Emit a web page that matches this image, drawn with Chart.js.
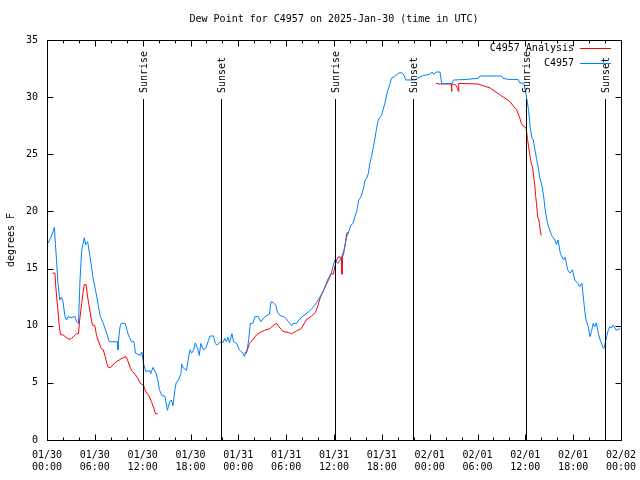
<!DOCTYPE html>
<html>
<head>
<meta charset="utf-8">
<script src="https://cdn.jsdelivr.net/npm/chart.js"></script>
<style>
    html, body { margin: 0; padding: 0; background: #fff; }
    #wrap { width: 640px; height: 480px; }
</style>
</head>
<body>
<div id="wrap"><canvas id="dewChart" width="640" height="480"></canvas></div>
<script>
// Hours since 2025-01-30 00:00 UTC
const stationHours = [
    0.1, 0.4, 0.7, 0.92, 1.05, 1.2, 1.35, 1.6, 1.8, 2.0, 2.26, 2.45, 2.65, 3.0, 3.5, 3.75, 3.95,
    4.14, 4.35, 4.5, 4.68, 4.85, 5.1, 5.4, 5.8, 6.2, 6.65, 7.06, 7.5, 7.8, 8.85, 8.9, 8.95,
    9.16, 9.3, 9.8, 10.2, 10.6, 10.9, 11.1, 11.7, 11.9, 12.1, 12.4, 12.9, 13.0, 13.3, 13.7,
    13.9, 14.1, 14.4, 14.8, 15.1, 15.4, 15.6, 15.8, 16.05, 16.2, 16.5, 16.8, 16.9, 17.1, 17.5,
    17.8, 17.95, 18.15, 18.4, 18.6, 18.9, 19.1, 19.3, 19.6, 19.9, 20.2, 20.45, 20.9, 21.1,
    21.3, 21.7, 22.1, 22.3, 22.5, 22.7, 22.9, 23.2, 23.4, 23.8, 24.1, 24.4, 24.6, 24.75, 24.95,
    25.1, 25.3, 25.5, 25.8, 26.1, 26.5, 26.8, 27.2, 27.6, 27.9, 28.1, 28.4, 28.7, 28.9, 29.2,
    29.65, 29.9, 30.3, 30.7, 30.9, 31.3, 31.6, 32.2, 32.6, 33.1, 33.6, 34.0, 34.4, 34.7, 35.2,
    35.7, 36.1, 36.5, 36.96, 37.25, 37.6, 37.8, 38.1, 38.4, 38.6, 38.85, 39.1, 39.4, 39.7,
    39.9, 40.1, 40.3, 40.5, 40.7, 40.9, 41.1, 41.3, 41.55, 41.96, 42.4, 42.7, 43.0, 43.2,
    43.6, 44.1, 44.5, 44.8, 45.0, 46.2, 46.4, 47.2, 48.0, 48.3, 48.5, 48.8, 49.3, 49.5, 50.8,
    51.0, 52.6, 54.1, 54.3, 57.0, 57.2, 57.9, 59.1, 59.3, 59.8, 60.0, 60.2, 60.4, 60.6, 60.8,
    61.0, 61.2, 61.4, 61.6, 61.8, 62.1, 62.3, 62.5, 62.7, 62.9, 63.3, 63.7, 63.9, 64.1, 64.4,
    64.8, 65.0, 65.3, 65.6, 65.9, 66.2, 66.6, 66.8, 67.1, 67.4, 67.6, 67.9, 68.1, 68.3, 68.5,
    68.7, 68.9, 69.2, 69.4, 69.7, 69.85, 70.0, 70.2, 70.4, 70.6, 70.8, 71.0, 71.4, 71.9
];
const stationDew = [
    17.2, 17.6, 18.1, 18.6, 17.2, 15.7, 13.9, 12.25, 12.5, 12.1, 10.8, 10.5, 10.8, 10.7, 10.8, 10.3, 10.2,
    14.0, 16.6, 17.1, 17.7, 17.1, 17.35, 16.0, 14.1, 12.7, 10.9, 10.2, 9.3, 8.6, 8.6, 7.9, 8.6,
    9.9, 10.2, 10.2, 9.2, 8.6, 8.6, 7.6, 7.4, 7.7, 6.7, 6.0, 6.06, 5.8, 6.35, 5.8,
    5.25, 4.4, 3.9, 3.8, 2.6, 3.35, 3.5, 3.0, 4.4, 5.0, 5.25, 5.8, 6.65, 6.3, 6.1,
    7.4, 7.9, 7.6, 7.9, 8.5, 8.0, 7.4, 8.45, 7.9, 8.0, 8.6, 9.1, 9.1, 8.45,
    8.3, 8.55, 8.55, 8.9, 8.6, 9.0, 8.5, 9.3, 8.6, 8.45, 7.9, 7.7, 7.6, 7.3, 7.7,
    7.9, 8.75, 10.2, 10.2, 10.8, 10.8, 10.35, 10.7, 10.9, 11.0, 12.1, 12.0, 11.8, 11.2, 10.9,
    10.8, 10.7, 10.35, 10.0, 10.2, 10.2, 10.5, 10.9, 11.1, 11.4, 11.8, 12.25, 12.7, 13.1, 14.0,
    14.7, 15.75, 15.45, 16.0, 16.6, 17.8, 18.1, 18.8, 18.96, 19.5, 20.0, 21.0, 21.3, 22.0,
    22.75, 22.9, 23.3, 24.2, 24.8, 25.5, 26.25, 27.1, 28.0, 28.4, 29.5, 30.5, 31.1, 31.65,
    31.8, 32.1, 32.15, 31.9, 31.5, 31.5, 31.65, 31.9, 32.0, 32.2, 32.0, 32.2, 32.2, 31.2, 31.2,
    31.5, 31.55, 31.65, 31.85, 31.85, 31.65, 31.55, 31.55, 31.25, 31.2, 30.6, 29.75, 28.9, 27.4, 26.5,
    26.25, 25.4, 24.65, 23.9, 23.0, 22.2, 21.3, 20.1, 19.25, 18.7, 17.9, 17.5, 17.1, 17.5, 16.3,
    15.75, 16.0, 14.9, 14.6, 14.9, 14.0, 13.7, 13.4, 13.7, 11.65, 10.5, 9.9, 9.05, 9.5, 10.2,
    9.9, 10.25, 9.2, 8.75, 8.15, 8.0, 8.45, 9.05, 9.6, 9.9, 9.8, 10.05, 9.6, 9.75
];

// Analysis series (null = gap in the data)
const analysisHours = [
    0.67, 1.0, 1.1, 1.35, 1.55, 1.7, 2.0, 2.76, 3.1, 3.7, 3.95, 4.1, 4.35, 4.5, 4.68, 4.9, 5.1,
    5.3, 5.5, 5.7, 6.0, 6.2, 6.4, 6.8, 7.06, 7.3, 7.5, 7.7, 8.0, 8.5, 9.4, 9.9, 10.1, 10.4,
    10.7, 11.0, 11.4, 11.7, 12.1, 12.4, 12.8, 13.1, 13.4, 13.6, 13.9,
    19.0,
    24.8, 25.0, 25.4, 25.7, 26.3, 26.7, 27.3, 28.0, 28.4, 28.8, 29.1, 29.6, 30.3, 30.7, 31.3,
    31.9, 32.5, 33.2, 33.7, 34.0, 34.3, 34.7, 35.3, 35.7, 35.9, 36.25, 36.5, 36.9, 37.0, 37.05,
    37.2, 37.4, 37.6, 37.8,
    43.0,
    48.8, 49.3, 50.7, 50.75, 50.8, 51.2, 51.5, 51.6, 51.65, 54.1, 54.7, 55.6, 56.2, 56.8, 57.7,
    58.1, 58.5, 58.9, 59.25, 59.5, 59.7, 60.1, 60.25, 60.4, 60.6, 60.75, 60.9, 61.2, 61.3, 61.4,
    61.55, 61.7, 61.9, 62.0
];
const analysisDew = [
    14.6, 14.6, 13.4, 11.5, 9.9, 9.2, 9.2, 8.8, 8.9, 9.3, 9.3, 10.5, 11.95, 12.8, 13.6, 13.6, 12.5,
    11.65, 10.8, 10.05, 10.0, 9.2, 8.75, 8.0, 7.9, 7.3, 6.7, 6.35, 6.35, 6.75, 7.15, 7.3, 7.0, 6.4,
    6.0, 5.8, 5.4, 4.96, 4.8, 4.2, 3.85, 3.35, 2.8, 2.3, 2.3,
    null,
    7.6, 7.6, 8.45, 8.7, 9.2, 9.4, 9.6, 9.75, 10.05, 10.2, 9.9, 9.5, 9.4, 9.3, 9.55,
    9.75, 10.5, 10.85, 11.2, 11.8, 12.5, 13.1, 14.0, 14.6, 14.5, 15.6, 16.0, 16.0, 14.5, 16.0,
    16.3, 17.1, 18.1, 18.2,
    null,
    31.2, 31.15, 31.15, 30.5, 31.15, 31.1, 30.8, 30.5, 31.2, 31.15, 31.0, 30.8, 30.5, 30.2, 29.8,
    29.6, 29.2, 28.9, 28.3, 27.7, 27.5, 27.3, 26.5, 25.7, 24.8, 24.2, 23.9, 22.2, 21.3, 20.7,
    19.5, 19.25, 18.2, 17.9
];

// Sunrise / sunset markers
const sunHours = [12.05, 21.83, 36.13, 45.9, 60.08, 70.0];
const sunLabels = ['Sunrise', 'Sunset', 'Sunrise', 'Sunset', 'Sunrise', 'Sunset'];

// Tick labels, every 6 hours
const tickDates = ['01/30', '01/30', '01/30', '01/30', '01/31', '01/31', '01/31', '01/31', '02/01', '02/01', '02/01', '02/01', '02/02'];
const tickTimes = ['00:00', '06:00', '12:00', '18:00', '00:00', '06:00', '12:00', '18:00', '00:00', '06:00', '12:00', '18:00', '00:00'];

const TITLE = 'Dew Point for C4957 on 2025-Jan-30 (time in UTC)';
const FONT = 'DejaVu Sans Mono';
const toPoints = (xs, ys) => xs.map((x, i) => ({ x: x, y: ys[i] }));

// Frame, inward ticks, sun markers, title and legend (gnuplot look)
const framePlugin = {
    id: 'frame',
    afterDatasetsDraw(chart) {
        const ctx = chart.ctx;
        const area = chart.chartArea;
        const xs = chart.scales.x;
        const ys = chart.scales.y;
        const L = Math.round(area.left) + 0.5;
        const R = Math.round(area.right) + 0.5;
        const T = Math.round(area.top) + 0.5;
        const B = Math.round(area.bottom) + 0.5;

        ctx.save();
        ctx.strokeStyle = '#000';
        ctx.lineWidth = 1;
        ctx.font = '10px ' + FONT;
        ctx.fillStyle = '#000';

        // title, centred over the plot area
        ctx.textAlign = 'center';
        ctx.textBaseline = 'middle';
        ctx.fillText(TITLE, (area.left + area.right) / 2, 19);

        // sunrise / sunset lines
        sunHours.forEach((h, i) => {
            const px = Math.round(xs.getPixelForValue(h)) + 0.5;
            ctx.beginPath();
            ctx.moveTo(px, 99);
            ctx.lineTo(px, B);
            ctx.stroke();
            ctx.save();
            ctx.translate(px + 1, 93);
            ctx.rotate(-Math.PI / 2);
            ctx.textAlign = 'left';
            ctx.textBaseline = 'middle';
            ctx.fillText(sunLabels[i], 0, 0);
            ctx.restore();
        });

        // border
        ctx.strokeRect(L, T, R - L, B - T);

        // x ticks, minor every 2 h, major every 6 h
        ctx.beginPath();
        for (let h = 0; h <= 72; h += 2) {
            const px = Math.round(xs.getPixelForValue(h)) + 0.5;
            const len = h % 6 === 0 ? 6 : 3;
            ctx.moveTo(px, B); ctx.lineTo(px, B - len);
            ctx.moveTo(px, T); ctx.lineTo(px, T + len);
        }
        // y ticks
        for (let v = 0; v <= 35; v += 5) {
            const py = Math.round(ys.getPixelForValue(v)) + 0.5;
            ctx.moveTo(L, py); ctx.lineTo(L + 6, py);
            ctx.moveTo(R, py); ctx.lineTo(R - 6, py);
        }
        ctx.stroke();

        // legend
        ctx.textAlign = 'right';
        chart.data.datasets.forEach((ds, i) => {
            const y = 48 + i * 15;
            ctx.fillStyle = '#000';
            ctx.fillText(ds.label, 574, y);
            ctx.strokeStyle = ds.borderColor;
            ctx.beginPath();
            ctx.moveTo(580, y + 0.5);
            ctx.lineTo(611, y + 0.5);
            ctx.stroke();
        });
        ctx.restore();
    }
};

new Chart(document.getElementById('dewChart').getContext('2d'), {
    type: 'line',
    data: {
        datasets: [
            {
                label: 'C4957 Analysis',
                data: toPoints(analysisHours, analysisDew),
                borderColor: '#ff0000',
                borderWidth: 1,
                pointRadius: 0,
                spanGaps: false,
                fill: false,
                order: 2
            },
            {
                label: 'C4957',
                data: toPoints(stationHours, stationDew),
                borderColor: '#0080ff',
                borderWidth: 1,
                pointRadius: 0,
                fill: false,
                order: 1
            }
        ]
    },
    options: {
        responsive: false,
        animation: false,
        layout: { padding: { left: 0, right: 19, top: 40, bottom: 0 } },
        plugins: {
            legend: { display: false },
            tooltip: { enabled: false },
            title: { display: false }
        },
        scales: {
            x: {
                type: 'linear',
                min: 0,
                max: 72,
                grid: { display: false, drawTicks: false },
                border: { display: false },
                ticks: {
                    stepSize: 6,
                    autoSkip: false,
                    maxRotation: 0,
                    padding: 9,
                    color: '#000',
                    font: { family: FONT, size: 10, lineHeight: 1.2 },
                    callback: (v) => {
                        const i = Math.round(v / 6);
                        return [tickDates[i], tickTimes[i]];
                    }
                },
                afterFit: (s) => {
                    s.height = 40;
                    s.paddingLeft = 0;
                    s.paddingRight = 0;
                }
            },
            y: {
                min: 0,
                max: 35,
                grid: { display: false, drawTicks: false },
                border: { display: false },
                ticks: {
                    stepSize: 5,
                    padding: 9,
                    color: '#000',
                    font: { family: FONT, size: 10, lineHeight: 1.2 }
                },
                title: {
                    display: true,
                    text: 'degrees F',
                    color: '#000',
                    font: { family: FONT, size: 10, lineHeight: 1.2 },
                    padding: { top: 5, bottom: 0 }
                },
                afterFit: (s) => {
                    s.width = 47;
                    s.paddingTop = 0;
                    s.paddingBottom = 0;
                }
            }
        }
    },
    plugins: [framePlugin]
});
</script>
</body>
</html>
